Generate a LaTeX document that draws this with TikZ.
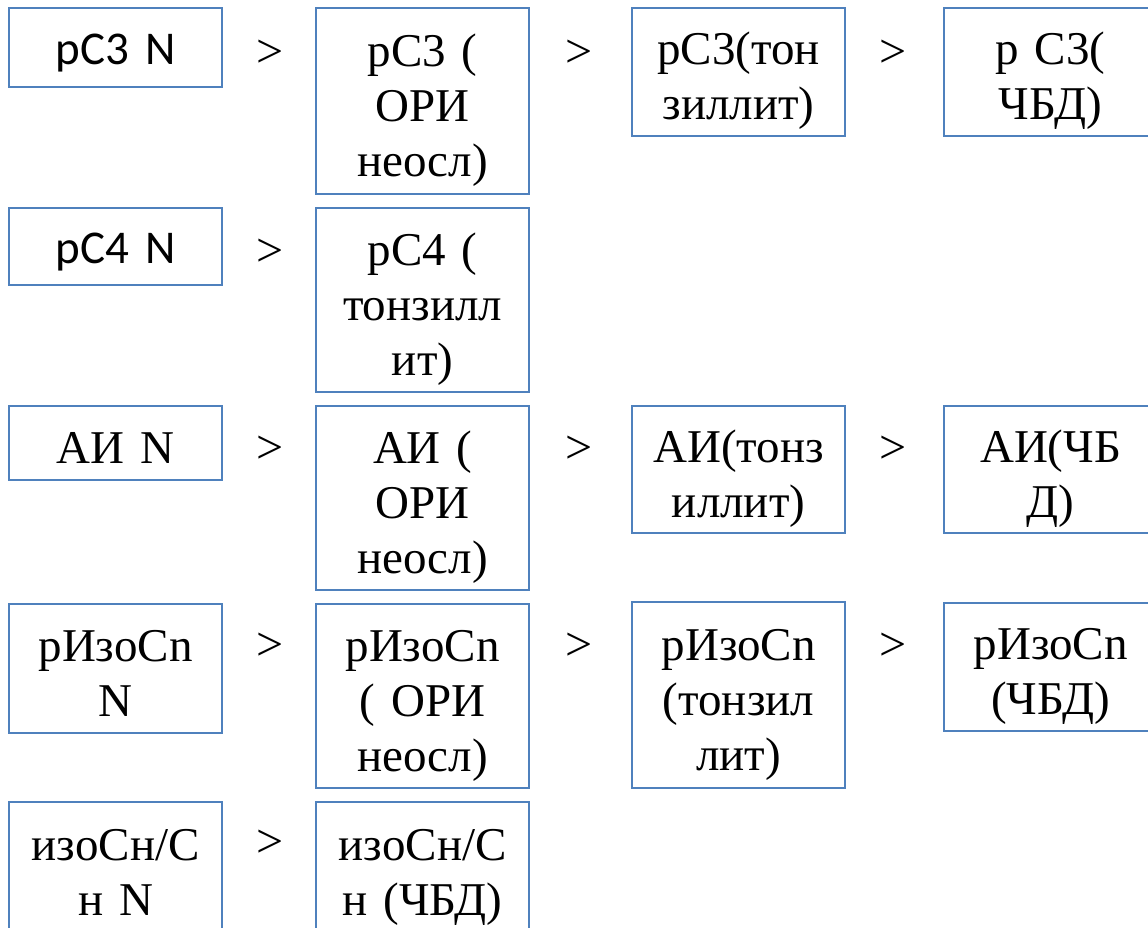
\documentclass[tikz,border=0pt]{standalone}
\usepackage{fontspec}
\setmainfont{Liberation Serif}
\newfontfamily\calibrifont{Carlito}
\definecolor{boxblue}{RGB}{79,129,189}
\begin{document}
\begin{tikzpicture}[x=1bp,y=-1bp,
  cellbase/.style={draw=boxblue,line width=2.2bp,fill=white,anchor=north west,
    text width=209bp,minimum width=213bp,inner xsep=2bp,inner ysep=0pt,
    align=center,
    execute at end node={\rule[-12bp]{0pt}{12bp}}},
  cell/.style={cellbase,font=\fontsize{47bp}{55bp}\selectfont,
    execute at begin node={\rule{0pt}{52bp}}},
  sanscell/.style={cellbase,font=\calibrifont\fontsize{47bp}{55bp}\selectfont,
    execute at begin node={\rule{0pt}{46bp}}},
  gt/.style={font=\fontsize{48bp}{55bp}\selectfont,inner sep=0pt}]
\useasboundingbox (0,0) rectangle (1148,928);
% row 1
\node[sanscell,minimum height=79bp] (a1) at (8,7) {рС3 N};
\node[cell,minimum height=186bp] (a2) at (315,7) {рС3 (\\ОРИ\\неосл)};
\node[cell,minimum height=128bp] (a3) at (631,7) {рС3(тон\\зиллит)};
\node[cell,minimum height=128bp] (a4) at (943,7) {р С3(\\ЧБД)};
% row 2
\node[sanscell,minimum height=77bp] (b1) at (8,207) {рС4 N};
\node[cell,minimum height=184bp] (b2) at (315,207) {рС4 (\\тонзилл\\ит)};
% row 3
\node[cell,minimum height=74bp] (c1) at (8,405) {АИ N};
\node[cell,minimum height=184bp] (c2) at (315,405) {АИ (\\ОРИ\\неосл)};
\node[cell,minimum height=127bp] (c3) at (631,405) {АИ(тонз\\иллит)};
\node[cell,minimum height=127bp] (c4) at (943,405) {АИ(ЧБ\\Д)};
% row 4
\node[cell,minimum height=129bp] (d1) at (8,603) {рИзоCn\\N};
\node[cell,minimum height=184bp] (d2) at (315,603) {рИзоCn\\( ОРИ\\неосл)};
\node[cell,minimum height=186bp] (d3) at (631,601) {рИзоCn\\(тонзил\\лит)};
\node[cell,minimum height=128bp] (d4) at (943,602) {рИзоCn\\(ЧБД)};
% row 5
\node[cell,minimum height=132bp] (e1) at (8,801) {изоСн/С\\н N};
\node[cell,minimum height=132bp] (e2) at (315,801) {изоСн/С\\н (ЧБД)};
% signs
\node[gt] (g11) at (270,54) {>};
\node[gt] (g12) at (579,54) {>};
\node[gt] (g13) at (893,54) {>};
\node[gt] (g21) at (270,253) {>};
\node[gt] (g31) at (270,450) {>};
\node[gt] (g32) at (579,450) {>};
\node[gt] (g33) at (893,450) {>};
\node[gt] (g41) at (270,647) {>};
\node[gt] (g42) at (579,647) {>};
\node[gt] (g43) at (893,647) {>};
\node[gt] (g51) at (270,844) {>};
\end{tikzpicture}
\end{document}
